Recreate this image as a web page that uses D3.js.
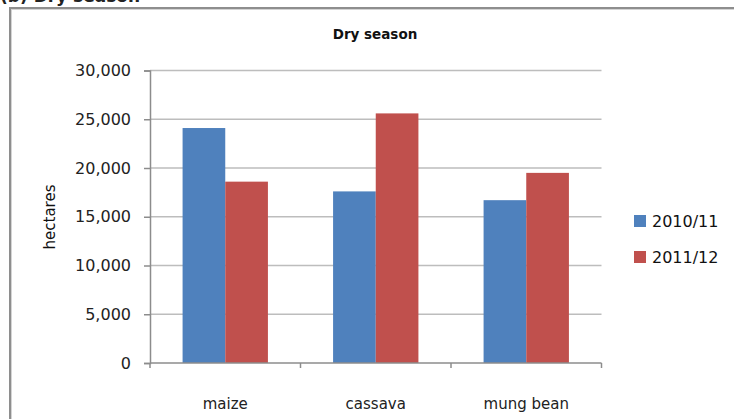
<!DOCTYPE html>
<html><head><meta charset="utf-8">
<script src="https://cdn.jsdelivr.net/npm/d3@7"></script>
<style>body{margin:0;background:#fff}svg{display:block}</style>
</head><body>
<svg id="c" width="734" height="419"></svg>
<script>
const categories = ["maize", "cassava", "mung bean"];
const seriesNames = ["2010/11", "2011/12"];
const values2010 = [24100, 17600, 16700];
const values2011 = [18600, 25600, 19500];
const yTicks = [0, 5000, 10000, 15000, 20000, 25000, 30000];
const colors = ["#4F81BD", "#C0504D"];

const svg = d3.select("#c");
const font = "'DejaVu Sans', sans-serif";

// clipped panel heading (cut off at the top edge, as in the reference)
svg.append("text").attr("x", 0).attr("y", 2)
  .attr("font-family", font).attr("font-weight", "bold").attr("font-size", 17)
  .attr("fill", "#222").text("(b) Dry season");

// chart border
svg.append("rect").attr("x", 10).attr("y", 8).attr("width", 800).attr("height", 600)
  .attr("fill", "#fff").attr("stroke", "#8e8e8e").attr("stroke-width", 2);
svg.append("rect").attr("x", 11.5).attr("y", 9.5).attr("width", 800).attr("height", 600)
  .attr("fill", "none").attr("stroke", "#d4d4d4").attr("stroke-width", 1);

const x0 = d3.scaleBand().domain(categories).range([150, 601.5]).paddingInner(0.433).paddingOuter(0.2165);
const x1 = d3.scaleBand().domain(seriesNames).range([0, x0.bandwidth()]);
const y = d3.scaleLinear().domain([0, 30000]).range([363, 70.5]);

// gridlines
svg.append("g").selectAll("line").data(yTicks.filter(d => d > 0)).join("line")
  .attr("x1", 150).attr("x2", 601.5)
  .attr("y1", d => y(d)).attr("y2", d => y(d))
  .attr("stroke", "#bdbdbd").attr("stroke-width", 1.5);

// bars
const data = categories.map((c, i) => ({cat: c, vals: [values2010[i], values2011[i]]}));
const g = svg.append("g").selectAll("g").data(data).join("g")
  .attr("transform", d => `translate(${x0(d.cat)},0)`);
g.selectAll("rect").data(d => d.vals.map((v, j) => ({name: seriesNames[j], v, j}))).join("rect")
  .attr("x", d => x1(d.name)).attr("width", x1.bandwidth())
  .attr("y", d => y(d.v)).attr("height", d => y(0) - y(d.v))
  .attr("fill", d => colors[d.j]);

// y axis
const yAxis = svg.append("g").attr("transform", "translate(150,0)")
  .call(d3.axisLeft(y).tickValues(yTicks).tickFormat(d3.format(",")).tickSizeOuter(0).tickSize(6).tickPadding(13));
yAxis.select(".domain").attr("stroke", "#8c8c8c").attr("stroke-width", 1.5);
yAxis.selectAll(".tick line").attr("stroke", "#8c8c8c").attr("stroke-width", 1.5);
yAxis.selectAll("text").attr("font-family", font).attr("font-size", 16).attr("fill", "#222");

// x axis
const xAxisG = svg.append("g").attr("transform", `translate(0,${y(0)})`);
xAxisG.append("line").attr("x1", 150).attr("x2", 601.5).attr("y1", 0).attr("y2", 0)
  .attr("stroke", "#8c8c8c").attr("stroke-width", 1.5);
const step = x0.step();
const boundaries = [0, 1, 2, 3].map(i => 150 + i * step);
xAxisG.selectAll("line.t").data(boundaries).join("line").attr("class", "t")
  .attr("x1", d => d).attr("x2", d => d).attr("y1", 0).attr("y2", 5)
  .attr("stroke", "#8c8c8c").attr("stroke-width", 1.5);
xAxisG.selectAll("text").data(categories).join("text")
  .attr("x", d => x0(d) + x0.bandwidth() / 2).attr("y", 46)
  .attr("text-anchor", "middle").attr("font-family", font).attr("font-size", 15).attr("fill", "#222")
  .text(d => d);

// y axis title
svg.append("text").attr("transform", "translate(55,217) rotate(-90)")
  .attr("text-anchor", "middle").attr("font-family", font).attr("font-size", 15).attr("fill", "#111")
  .text("hectares");

// chart title
svg.append("text").attr("x", 375).attr("y", 39).attr("text-anchor", "middle")
  .attr("font-family", font).attr("font-weight", "bold").attr("font-size", 13.5).attr("fill", "#111")
  .text("Dry season");

// legend
const leg = svg.append("g").selectAll("g").data(seriesNames).join("g")
  .attr("transform", (d, i) => `translate(634,${215 + i * 36})`);
leg.append("rect").attr("width", 12).attr("height", 12).attr("fill", (d, i) => colors[i]);
leg.append("text").attr("x", 18).attr("y", 12).attr("font-family", font).attr("font-size", 16)
  .attr("fill", "#111").text(d => d);
</script>
</body></html>
